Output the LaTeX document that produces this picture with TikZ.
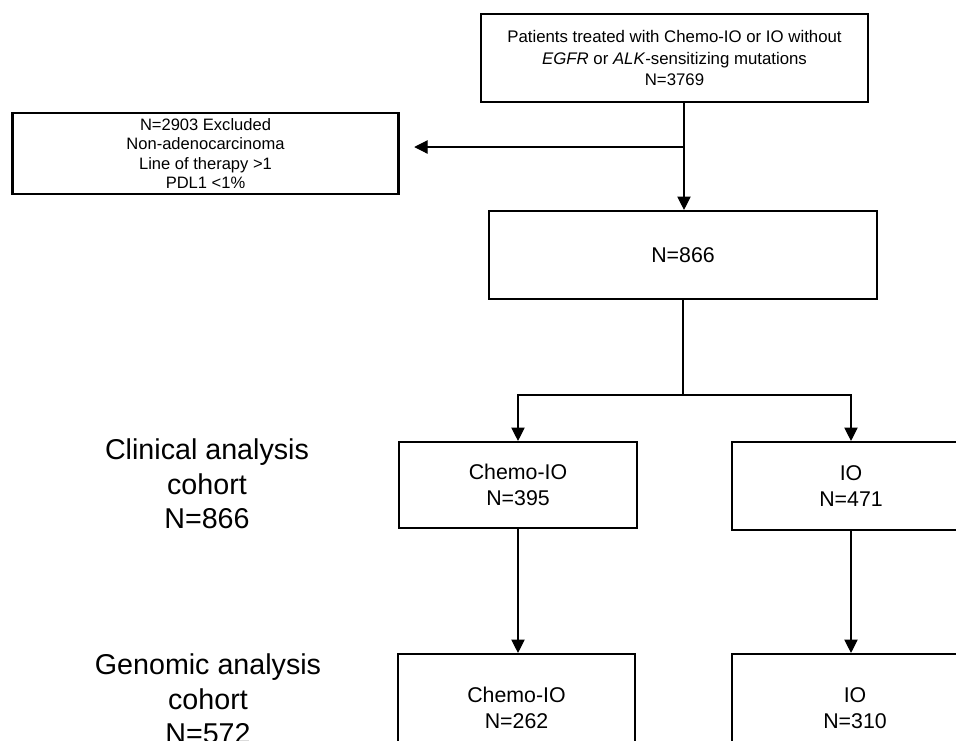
\documentclass[tikz,border=0pt]{standalone}
\usepackage{fontspec}
\setmainfont{Liberation Sans}
\usetikzlibrary{arrows.meta}
\begin{document}
\begin{tikzpicture}[x=0.75pt,y=-0.75pt,
  box/.style={draw, line width=1.6pt, inner sep=0pt, align=center},
  conn/.style={line width=0.8pt},
  arr/.style={conn, -{Triangle[length=10pt,width=10pt]}},
  smalltxt/.style={font=\fontsize{12.6}{16}\selectfont},
  excltxt/.style={font=\fontsize{12.4}{14.6}\selectfont},
  midtxt/.style={font=\fontsize{16}{19.5}\selectfont},
  bigtxt/.style={align=center, inner sep=0pt, font=\fontsize{21.5}{26}\selectfont}]
\useasboundingbox (0,0) rectangle (956,740);
\clip (0,0) rectangle (956,740);

\node[box, smalltxt, minimum width=387*0.75pt, minimum height=88*0.75pt] (top) at (674.5,58)
  {Patients treated with Chemo-IO or IO without\\ \textit{EGFR} or \textit{ALK}-sensitizing mutations\\ N=3769};
\node[box, excltxt, minimum width=386*0.75pt, minimum height=81*0.75pt] (excl) at (205.5,153.5)
  {N=2903 Excluded\\ Non-adenocarcinoma\\ Line of therapy >1\\ PDL1 <1\%};
\node[box, midtxt, minimum width=388*0.75pt, minimum height=88*0.75pt] (n866) at (683,255) {N=866};
\node[box, midtxt, minimum width=238*0.75pt, minimum height=86*0.75pt] (chemo1) at (518,485) {Chemo-IO\\ N=395};
\node[box, midtxt, minimum width=238*0.75pt, minimum height=88*0.75pt] (io1) at (851,486) {IO\\ N=471};
\node[box, midtxt, minimum width=237*0.75pt, minimum height=108*0.75pt] (chemo2) at (516.5,708) {Chemo-IO\\ N=262};
\node[box, midtxt, minimum width=246*0.75pt, minimum height=108*0.75pt] (io2) at (855,708) {IO\\ N=310};

\node[bigtxt] (clin) at (207,484) {Clinical analysis\\ cohort\\ N=866};
\node[bigtxt] (gen) at (208,699) {Genomic analysis\\ cohort\\ N=572};

\coordinate (j1) at (684,147);
\draw[arr] (top.south -| j1) -- (j1 |- n866.north);
\draw[arr, shorten >=11pt] (j1) -- (excl.east |- j1);

\coordinate (b) at (683,395);
\draw[conn] (n866.south) -- (b);
\draw[arr] (b) -| (chemo1.north);
\draw[arr] (b) -| (io1.north);
\draw[arr] (chemo1.south) -- (chemo1.south |- chemo2.north);
\draw[arr] (io1.south) -- (io1.south |- io2.north);
\end{tikzpicture}
\end{document}
